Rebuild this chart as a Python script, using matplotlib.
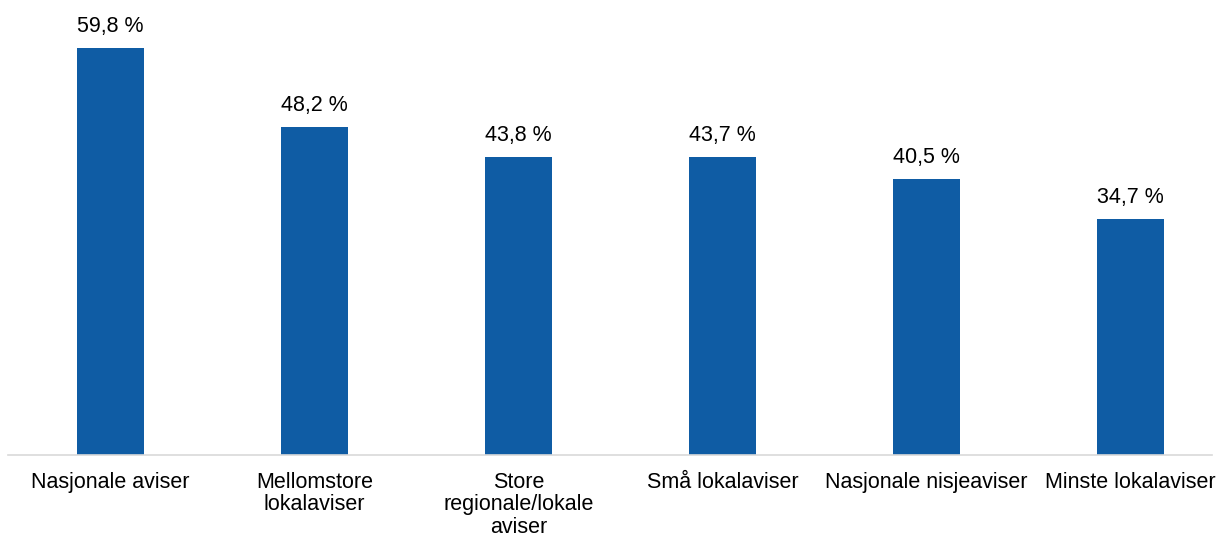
import matplotlib
matplotlib.use("Agg")
from matplotlib import pyplot as plt

plt.rcParams["font.family"] = ["Liberation Sans", "DejaVu Sans"]

categories = [
    "Nasjonale aviser",
    "Mellomstore\nlokalaviser",
    "Store\nregionale/lokale\naviser",
    "Små lokalaviser",
    "Nasjonale nisjeaviser",
    "Minste lokalaviser",
]
values = [59.8, 48.2, 43.8, 43.7, 40.5, 34.7]
value_labels = ["59,8 %", "48,2 %", "43,8 %", "43,7 %", "40,5 %", "34,7 %"]

fig = plt.figure(figsize=(12.16, 5.38), dpi=100)
ax = fig.add_axes([8 / 1216, 83 / 538, 1204 / 1216, 450 / 538])

x = list(range(len(categories)))
bars = ax.bar(x, values, width=0.33, color="#0F5CA4", zorder=2)

for b, lab in zip(bars, value_labels):
    ax.annotate(lab, (b.get_x() + b.get_width() / 2, b.get_height()),
                xytext=(0, 8), textcoords="offset points",
                ha="center", va="bottom", fontsize=15.5, color="#000000")

ax.set_xlim(-0.503, 5.399)
ax.set_ylim(0, 66.07)
ax.set_xticks(x)
ax.set_xticklabels(categories, fontsize=15.5, linespacing=1.1)
ax.tick_params(axis="x", length=0, pad=12)
ax.set_yticks([])
for s in ["top", "right", "left"]:
    ax.spines[s].set_visible(False)
ax.spines["bottom"].set_color("#D9D9D9")
ax.spines["bottom"].set_linewidth(1.2)

fig.savefig("out.png", dpi=100)
